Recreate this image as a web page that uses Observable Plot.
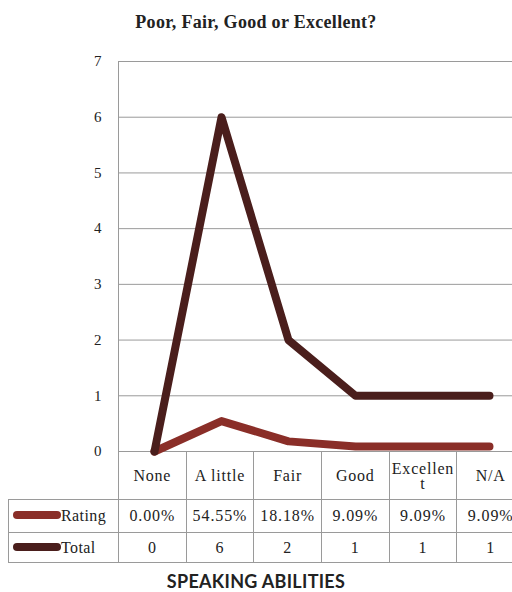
<!DOCTYPE html>
<html>
<head>
<meta charset="utf-8">
<script src="https://cdn.jsdelivr.net/npm/d3@7"></script>
<script src="https://cdn.jsdelivr.net/npm/@observablehq/plot@0.6"></script>
<style>
  html, body { margin: 0; padding: 0; background: #fff; }
  body { width: 512px; height: 592px; overflow: hidden; position: relative; font-family: "Liberation Serif", serif; color: #222; }
  #title { height: 40px; text-align: center; font-weight: bold; font-size: 18px; line-height: 18px; padding-top: 13px; box-sizing: border-box; letter-spacing: 0.3px; }
  #chart svg { display: block; overflow: visible; }
  table.data { border-collapse: collapse; table-layout: fixed; margin-left: 8px; font-size: 16px; letter-spacing: 0.9px; }
  table.data td { border: 1px solid #9a9a9a; text-align: center; padding: 0; white-space: nowrap; overflow: hidden; }
  table.data tr.head td { height: 47px; white-space: normal; word-break: break-all; line-height: 15px; padding: 0 1px; letter-spacing: 0.8px; }
  table.data tr.head td.blank { border: none; border-right: 1px solid #9a9a9a; }
  table.data tr.r1 td { height: 32px; }
  table.data tr.r2 td { height: 29px; }
  td.key { text-align: left !important; padding-left: 4px !important; letter-spacing: 0.4px !important; }
  .swatch { display: inline-block; width: 48px; height: 8px; border-radius: 4px; vertical-align: middle; margin-right: 0; position: relative; top: -2px; }
  #xtitle { text-align: center; font-family: Lato, "Open Sans", sans-serif; font-weight: bold; font-size: 18px; line-height: 18px; margin-top: 9px; letter-spacing: 0.3px; }
</style>
</head>
<body>
<div id="title">Poor, Fair, Good or Excellent?</div>
<div id="chart"></div>
<div id="table"></div>
<div id="xtitle">SPEAKING ABILITIES</div>
<script>
// Survey responses for speaking ability
const categories = ["None", "A little", "Fair", "Good", "Excellent", "N/A"];
const ratingPercent = [0.00, 54.55, 18.18, 9.09, 9.09, 9.09];
const totalCounts = [0, 6, 2, 1, 1, 1];
const seriesNames = ["Rating", "Total"];
const seriesColors = ["#8a2e28", "#4a1e1c"];
const yTicks = [0, 1, 2, 3, 4, 5, 6, 7];

// Long-format rows for the line marks (Rating plotted as a fraction of one)
const rows = [
  ...categories.map((c, i) => ({series: "Rating", category: c, value: ratingPercent[i] / 100})),
  ...categories.map((c, i) => ({series: "Total", category: c, value: totalCounts[i]}))
];

const plotLeft = 118, plotRight = 524;

const chart = Plot.plot({
  width: 512,
  height: 411,
  marginTop: 21,
  marginBottom: 0,
  marginLeft: plotLeft,
  marginRight: 0,
  style: {fontFamily: "Liberation Serif, serif", fontSize: "15px", color: "#222", background: "transparent"},
  x: {type: "point", domain: categories, range: [plotLeft, plotRight], padding: 0.5, axis: null},
  y: {domain: [0, 7], ticks: yTicks},
  color: {domain: seriesNames, range: seriesColors},
  marks: [
    Plot.gridY(yTicks, {stroke: "#9a9a9a", strokeOpacity: 1, strokeWidth: 1}),
    Plot.frame({anchor: "left", stroke: "#9a9a9a"}),
    Plot.axisY(yTicks, {tickSize: 0, tickPadding: 17, fontSize: 15, label: null, tickFormat: d3.format("d")}),
    Plot.line(rows, {
      x: "category", y: "value", z: "series", stroke: "series",
      strokeWidth: 8, strokeLinecap: "round", strokeLinejoin: "round"
    })
  ]
});
document.getElementById("chart").appendChild(chart);

// Data table under the plot, columns sized from the x scale
const xs = chart.scale("x");
const colW = (xs.range[1] - xs.range[0]) / categories.length;
const keyW = xs.range[0] - 8;

const table = document.createElement("table");
table.className = "data";
const colgroup = document.createElement("colgroup");
[keyW, ...categories.map(() => colW)].forEach(w => {
  const col = document.createElement("col");
  col.style.width = w + "px";
  colgroup.appendChild(col);
});
table.appendChild(colgroup);
table.style.width = (keyW + colW * categories.length) + "px";

const head = document.createElement("tr");
head.className = "head";
const blank = document.createElement("td");
blank.className = "blank";
head.appendChild(blank);
categories.forEach(c => {
  const td = document.createElement("td");
  td.textContent = c;
  head.appendChild(td);
});
table.appendChild(head);

const rowValues = [
  ratingPercent.map(v => v.toFixed(2) + "%"),
  totalCounts.map(v => String(v))
];
seriesNames.forEach((name, k) => {
  const tr = document.createElement("tr");
  tr.className = "r" + (k + 1);
  const key = document.createElement("td");
  key.className = "key";
  const sw = document.createElement("span");
  sw.className = "swatch";
  sw.style.background = seriesColors[k];
  key.appendChild(sw);
  key.appendChild(document.createTextNode(name));
  tr.appendChild(key);
  rowValues[k].forEach(v => {
    const td = document.createElement("td");
    td.textContent = v;
    tr.appendChild(td);
  });
  table.appendChild(tr);
});
document.getElementById("table").appendChild(table);
</script>
</body>
</html>
